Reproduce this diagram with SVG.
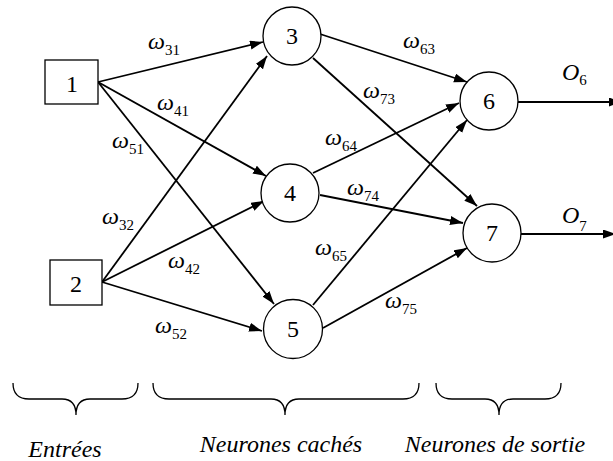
<svg xmlns="http://www.w3.org/2000/svg" width="613" height="461" viewBox="0 0 613 461">
<style>
.node{fill:#fff;stroke:#000;stroke-width:1.3}
.num{font-family:"Liberation Serif","Times New Roman",serif;font-size:24px;text-anchor:middle;fill:#000}
.w{font-family:"Liberation Serif","Times New Roman",serif;font-size:24px;font-style:italic;fill:#000}
.sub{font-size:15px;font-style:normal}
.edge{stroke:#000;stroke-width:1.8;fill:none;marker-end:url(#ah)}
.brace{stroke:#000;stroke-width:1.3;fill:none}
.cap{font-family:"Liberation Serif","Times New Roman",serif;font-size:24px;font-style:italic;text-anchor:middle;fill:#000}
</style>
<defs>
<marker id="ah" markerUnits="userSpaceOnUse" markerWidth="14" markerHeight="10" refX="13" refY="4.5" orient="auto">
<path d="M0,0 L13,4.5 L0,9 z" fill="#000"/>
</marker>
</defs>
<rect width="613" height="461" fill="#fff"/>
<g id="connectors">
<line class="edge" x1="98" y1="82" x2="263" y2="42"/>
<line class="edge" x1="98" y1="82" x2="266" y2="176"/>
<line class="edge" x1="98" y1="82" x2="274" y2="304"/>
<line class="edge" x1="102" y1="282" x2="267" y2="56"/>
<line class="edge" x1="102" y1="282" x2="264" y2="201"/>
<line class="edge" x1="102" y1="282" x2="262" y2="331"/>
<line class="edge" x1="320" y1="34" x2="467" y2="82"/>
<line class="edge" x1="313" y1="58" x2="477" y2="206"/>
<line class="edge" x1="313" y1="173" x2="459" y2="103"/>
<line class="edge" x1="320" y1="195" x2="463" y2="223"/>
<line class="edge" x1="313" y1="305" x2="467" y2="120"/>
<line class="edge" x1="323" y1="328" x2="467" y2="248"/>
<line class="edge" x1="518" y1="102" x2="622" y2="102"/>
<line class="edge" x1="521" y1="234" x2="616" y2="234"/>
</g>
<g id="n1"><rect class="node" x="45" y="60" width="53" height="44"/><text class="num" x="72" y="92">1</text></g>
<g id="n2"><rect class="node" x="50" y="260" width="52" height="45"/><text class="num" x="76" y="292">2</text></g>
<g id="n3"><circle class="node" cx="292" cy="36" r="29"/><text class="num" x="292" y="44">3</text></g>
<g id="n4"><circle class="node" cx="290" cy="193" r="29"/><text class="num" x="290" y="201">4</text></g>
<g id="n5"><circle class="node" cx="293" cy="329" r="29.5"/><text class="num" x="293" y="337">5</text></g>
<g id="n6"><circle class="node" cx="489" cy="101" r="29"/><text class="num" x="489" y="109">6</text></g>
<g id="n7"><circle class="node" cx="492" cy="233" r="29"/><text class="num" x="492" y="241">7</text></g>
<g id="labels">
<text class="w" x="148" y="49">ω<tspan class="sub" dy="6">31</tspan></text>
<text class="w" x="157" y="110">ω<tspan class="sub" dy="6">41</tspan></text>
<text class="w" x="112" y="148">ω<tspan class="sub" dy="6">51</tspan></text>
<text class="w" x="102" y="224">ω<tspan class="sub" dy="6">32</tspan></text>
<text class="w" x="168" y="268">ω<tspan class="sub" dy="6">42</tspan></text>
<text class="w" x="155" y="333">ω<tspan class="sub" dy="6">52</tspan></text>
<text class="w" x="403" y="48">ω<tspan class="sub" dy="6">63</tspan></text>
<text class="w" x="363" y="98">ω<tspan class="sub" dy="6">73</tspan></text>
<text class="w" x="325" y="145">ω<tspan class="sub" dy="6">64</tspan></text>
<text class="w" x="347" y="195">ω<tspan class="sub" dy="6">74</tspan></text>
<text class="w" x="315" y="255">ω<tspan class="sub" dy="6">65</tspan></text>
<text class="w" x="385" y="308">ω<tspan class="sub" dy="6">75</tspan></text>
<text class="w" x="562" y="80">O<tspan class="sub" dy="5">6</tspan></text>
<text class="w" x="562" y="223">O<tspan class="sub" dy="8">7</tspan></text>
</g>
<g id="braces">
<path class="brace" d="M13,383 Q13,399 29,399 L62,399 Q76,399 76,415 Q76,399 90,399 L122,399 Q138,399 138,383"/>
<path class="brace" d="M153,383 Q153,399 169,399 L271,399 Q285,399 285,415 Q285,399 299,399 L403,399 Q419,399 419,383"/>
<path class="brace" d="M436,383 Q436,399 452,399 L485,399 Q499,399 499,415 Q499,399 513,399 L545,399 Q561,399 561,383"/>
<text class="cap" x="65" y="457">Entrées</text>
<text class="cap" x="281" y="452">Neurones cachés</text>
<text class="cap" x="495" y="452">Neurones de sortie</text>
</g>
</svg>
